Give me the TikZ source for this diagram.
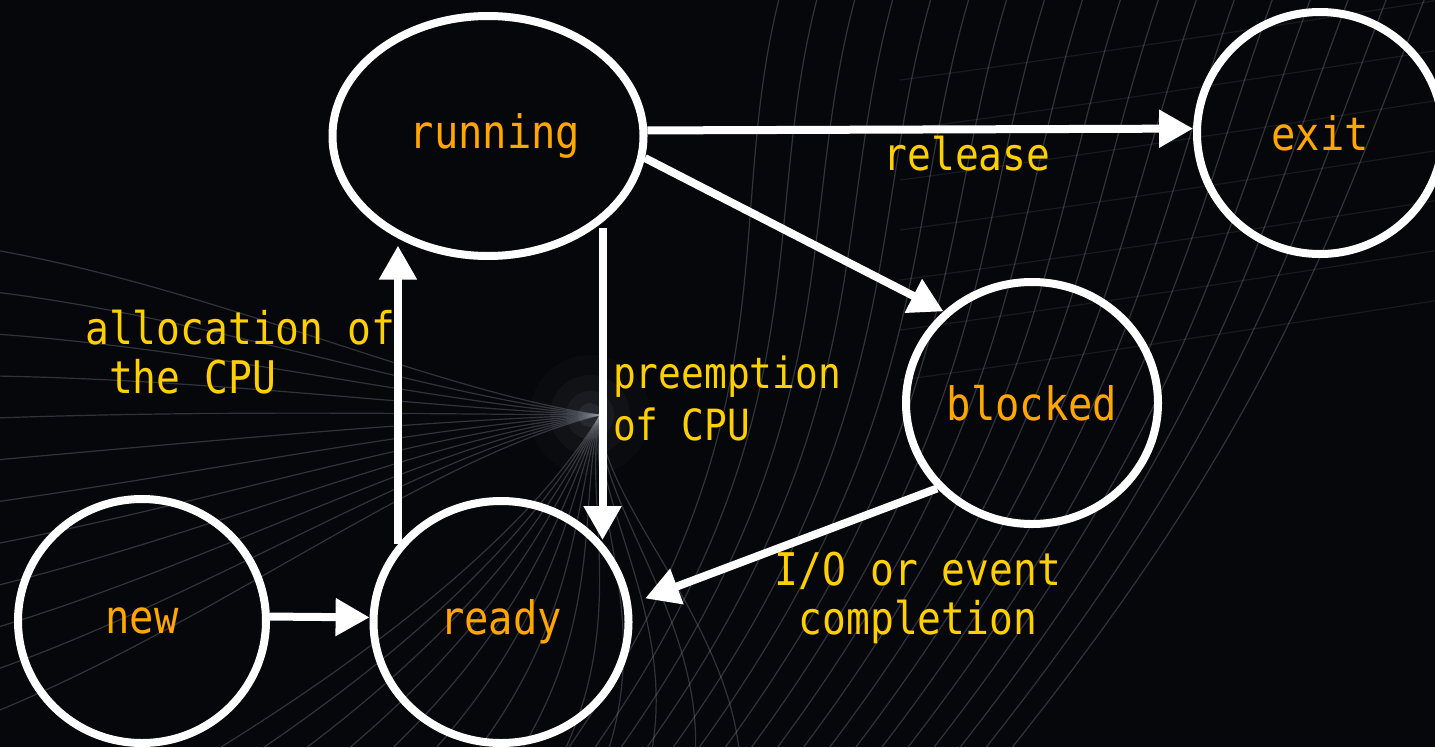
\documentclass[tikz,border=0pt]{standalone}
\usepackage{fontspec}
\newfontfamily\monofont[FakeStretch=0.88]{DejaVu Sans Mono}
\usetikzlibrary{arrows.meta,shapes.geometric}

\definecolor{bgdark}{RGB}{6,7,11}
\definecolor{stateorange}{RGB}{255,166,0}
\definecolor{labelgold}{RGB}{255,208,0}
\definecolor{meshgray}{RGB}{150,156,168}

\begin{document}
\begin{tikzpicture}[x=1pt,y=-1pt,
  state/.style={ellipse, draw=white, line width=8pt, inner sep=0pt,
    font=\monofont\fontsize{46}{49}\selectfont, text=stateorange},
  lbl/.style={inner sep=0pt, font=\monofont\fontsize{45}{49}\selectfont,
    text=labelgold},
  arr/.style={draw=white, line width=8pt,
    -{Triangle[length=34pt,width=36pt]}},
  mesh/.style={draw=meshgray, line width=1.2pt, opacity=0.3}]

% page and dark backdrop
\useasboundingbox (0,0) rectangle (1435,747);
\fill[bgdark] (0,0) rectangle (1435,747);

% faint wire-mesh backdrop
\begin{scope}
  \clip (0,0) rectangle (1435,747);
  % glow where the left fan converges
  \foreach \r/\o in {60/0.03,40/0.05,24/0.07,12/0.10}
    \fill[meshgray, opacity=\o] (590,415) circle (\r);
  % sheet of near-vertical threads on the right
  \foreach \i in {0,...,17}
    \draw[mesh] (780+\i*38,-5) .. controls (720+\i*36,230) and (800+\i*28,420) .. (560+\i*26,760);
  % cross threads of the sheet
  \foreach \j in {0,...,6}
    \draw[mesh, opacity=0.13] (900,80+\j*50) .. controls (1050,60+\j*50) and (1250,30+\j*50) .. (1440,0+\j*50);
  % fan of threads from the left edge
  \foreach \i in {0,...,11}
    \draw[mesh] (-5,250+\i*42) .. controls (220,290+\i*30) and (430,390+\i*6) .. (600,415);
  % threads falling from the glow to the bottom edge
  \foreach \i in {0,...,12}
    \draw[mesh] (600,415) .. controls (550+\i*4,500) and (430+\i*25,620) .. (200+\i*45,760);
\end{scope}

% process states
\node[state, minimum width=311pt, minimum height=240pt] (running) at (488,136) {\kern14pt running};
\node[state, minimum width=246pt, minimum height=242pt] (exit) at (1320,133) {exit};
\node[state, minimum width=252pt, minimum height=242pt] (blocked) at (1032,403) {blocked};
\node[state, minimum width=248pt, minimum height=244pt] (new) at (142,621) {new};
\node[state, minimum width=255pt, minimum height=242pt] (ready) at (501,622) {ready};

% transitions
\draw[arr] (running.2.5) -- (exit.178);
\draw[arr] (running.-8.3) -- (blocked.134);
\draw[arr, shorten <=6pt, shorten >=6pt] (running.-37) -- (running.-37 |- ready.36.5);
\draw[arr, shorten >=8pt] (ready.143) -- (ready.143 |- running.228.7);
\draw[arr] (new.2) -- (ready.178);
\draw[arr, shorten >=15pt] (blocked.222) -- (ready.8.2);

% transition labels (base anchor sits on the last line)
\node[lbl, anchor=base] (releaseLbl) at (967,170) {release};
\node[lbl, align=left, anchor=base west] (allocLbl) at (85,393) {allocation of\\\hphantom{a}the CPU};
\node[lbl, align=left, anchor=base west, font=\monofont\fontsize{43}{49}\selectfont]
  (preemptLbl) at (613,440) {preemption\\[3pt]of CPU};
\node[lbl, align=center, anchor=base] (ioLbl) at (918,634) {I/O or event\\completion};

\end{tikzpicture}
\end{document}
